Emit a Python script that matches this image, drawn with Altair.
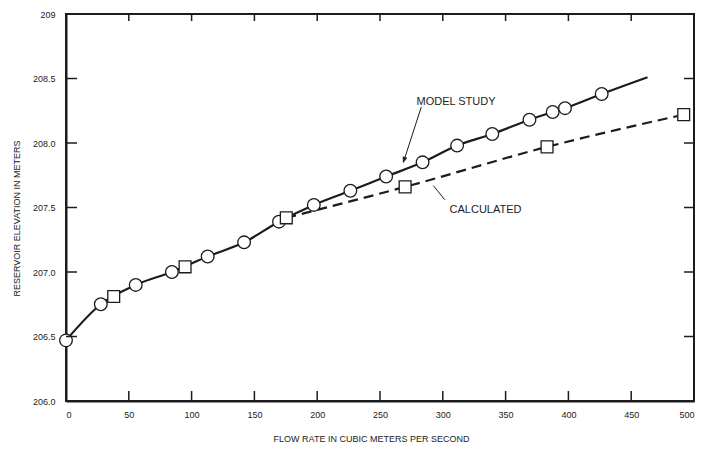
import altair as alt
import pandas as pd

# ---- data ----
model_flow = [0, 27.7, 55.5, 84.3, 112.8, 141.8, 169.6, 197.3, 226.4, 254.9,
              283.9, 311.4, 339.4, 369.0, 387.5, 397.3, 426.5]
model_elev = [206.47, 206.75, 206.90, 207.00, 207.12, 207.23, 207.39, 207.52, 207.63,
              207.74, 207.85, 207.98, 208.07, 208.18, 208.24, 208.27, 208.38]
model_line_end_flow = [463.0]
model_line_end_elev = [208.51]

calc_flow = [38.0, 94.8, 175.4, 270.0, 383.0, 491.8]
calc_elev = [206.81, 207.04, 207.42, 207.66, 207.97, 208.22]
calc_line_start = 2  # dashed curve begins where it leaves the model curve

x_ticks = [0, 50, 100, 150, 200, 250, 300, 350, 400, 450, 500]
y_ticks = [206.0, 206.5, 207.0, 207.5, 208.0, 208.5, 209.0]
x_inner_ticks = [50, 100, 150, 200, 250, 300, 350, 400, 450]
y_inner_ticks = [206.5, 207.0, 207.5, 208.0, 208.5]

ann_text = ["MODEL STUDY", "CALCULATED"]
ann_flow = [310.5, 334.0]
ann_elev = [208.32, 207.48]
leader_flow = [282.9, 292.4]
leader_elev = [208.28, 207.67]
leader_flow2 = [268.6, 301.6]
leader_elev2 = [207.85, 207.56]

W, H = 628, 387
INK = "#1c1c1c"
FONT = "Liberation Sans"

model_pts = pd.DataFrame({"flow": model_flow, "elev": model_elev})
model_line = pd.DataFrame({"flow": model_flow + model_line_end_flow,
                           "elev": model_elev + model_line_end_elev})
calc_pts = pd.DataFrame({"flow": calc_flow, "elev": calc_elev})
calc_line = calc_pts.iloc[calc_line_start:]
xt = pd.DataFrame({"v": x_inner_ticks})
yt = pd.DataFrame({"v": y_inner_ticks})
ann = pd.DataFrame({"t": ann_text, "flow": ann_flow, "elev": ann_elev})
lead = pd.DataFrame({"x1": leader_flow, "y1": leader_elev, "x2": leader_flow2, "y2": leader_elev2})
arrow = lead.iloc[:1]

xs = alt.Scale(domain=[0, 500], nice=False, zero=False)
ys = alt.Scale(domain=[206, 209], nice=False, zero=False)

x_axis = alt.Axis(values=x_ticks, ticks=False, tickSize=0, grid=False, domainColor=INK,
                  domainWidth=2, labelPadding=9, labelFontSize=9, labelColor=INK,
                  labelFont=FONT, title="FLOW RATE IN CUBIC METERS PER SECOND",
                  titleFont=FONT, titleFontSize=9, titleFontWeight="normal",
                  titleColor=INK, titlePadding=15, titleX=305, titleAnchor="middle")
y_axis = alt.Axis(values=y_ticks, ticks=False, tickSize=0, grid=False, domainColor=INK,
                  domainWidth=2, labelPadding=11, labelFontSize=9, labelColor=INK,
                  labelFont=FONT,
                  labelExpr="datum.value == 209 ? '209' : format(datum.value, '.1f')",
                  title="RESERVOIR ELEVATION IN METERS", titleFont=FONT,
                  titleFontSize=9, titleFontWeight="normal", titleColor=INK,
                  titlePadding=11, titleY=204, titleAnchor="middle")

base_line = alt.Chart(model_line).mark_line(color=INK, strokeWidth=2.2,
                                              interpolate="monotone").encode(
    x=alt.X("flow:Q", scale=xs, axis=x_axis),
    y=alt.Y("elev:Q", scale=ys, axis=y_axis),
)
calc_l = alt.Chart(calc_line).mark_line(color=INK, strokeWidth=2.2, strokeDash=[10, 6],
                                        interpolate="monotone").encode(
    x=alt.X("flow:Q", scale=xs), y=alt.Y("elev:Q", scale=ys))
circles = alt.Chart(model_pts).mark_point(shape="circle", filled=True, fill="white",
                                          stroke=INK, strokeWidth=1.3, size=160,
                                          opacity=1).encode(
    x=alt.X("flow:Q", scale=xs), y=alt.Y("elev:Q", scale=ys))
squares = alt.Chart(calc_pts).mark_point(shape="square", filled=True, fill="white",
                                         stroke=INK, strokeWidth=1.3, size=140,
                                         opacity=1).encode(
    x=alt.X("flow:Q", scale=xs), y=alt.Y("elev:Q", scale=ys))

bt = alt.Chart(xt).mark_rule(color=INK, strokeWidth=1.5).encode(
    x=alt.X("v:Q", scale=xs), y=alt.value(H), y2=alt.value(H - 10))
tt = alt.Chart(xt).mark_rule(color=INK, strokeWidth=1.5).encode(
    x=alt.X("v:Q", scale=xs), y=alt.value(0), y2=alt.value(7))
lt = alt.Chart(yt).mark_rule(color=INK, strokeWidth=1.5).encode(
    y=alt.Y("v:Q", scale=ys), x=alt.value(0), x2=alt.value(11))
rt = alt.Chart(yt).mark_rule(color=INK, strokeWidth=1.5).encode(
    y=alt.Y("v:Q", scale=ys), x=alt.value(W), x2=alt.value(W - 10))

texts = alt.Chart(ann).mark_text(font=FONT, fontSize=11, color=INK, align="center",
                                 baseline="middle").encode(
    x=alt.X("flow:Q", scale=xs), y=alt.Y("elev:Q", scale=ys), text="t:N")
leaders = alt.Chart(lead).mark_rule(color=INK, strokeWidth=1).encode(
    x=alt.X("x1:Q", scale=xs), y=alt.Y("y1:Q", scale=ys), x2="x2:Q", y2="y2:Q")
head = alt.Chart(arrow).mark_point(shape="M0,0L-0.4,-1L0.4,-1Z", filled=True, fill=INK,
                                   stroke=INK, strokeWidth=0.5, size=110, angle=18,
                                   opacity=1).encode(
    x=alt.X("x2:Q", scale=xs), y=alt.Y("y2:Q", scale=ys))

chart = alt.layer(base_line, calc_l, circles, squares, bt, tt, lt, rt,
                  leaders, head, texts).properties(
    width=W, height=H,
    autosize=alt.AutoSizeParams(type="none"),
    padding={"left": 58, "top": 6, "right": 5, "bottom": 46},
    background="white",
).configure_view(stroke=INK, strokeWidth=2)

chart.save("out.html", embed_options={"renderer": "svg", "actions": False})
